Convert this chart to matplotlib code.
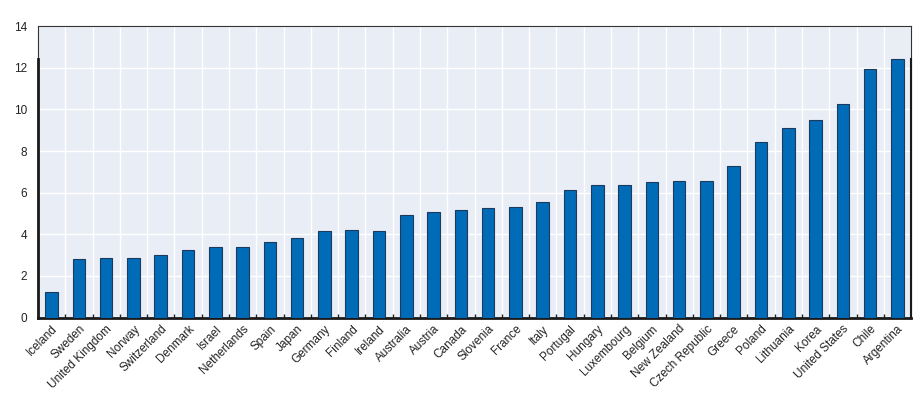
import matplotlib
matplotlib.use("Agg")
import matplotlib.pyplot as plt
import numpy as np

countries = ["Iceland", "Sweden", "United Kingdom", "Norway", "Switzerland", "Denmark",
             "Israel", "Netherlands", "Spain", "Japan", "Germany", "Finland", "Ireland",
             "Australia", "Austria", "Canada", "Slovenia", "France", "Italy", "Portugal",
             "Hungary", "Luxembourg", "Belgium", "New Zealand", "Czech Republic", "Greece",
             "Poland", "Lithuania", "Korea", "United States", "Chile", "Argentina"]
values = [1.22, 2.79, 2.85, 2.85, 2.98, 3.22, 3.38, 3.40, 3.62, 3.81, 4.17, 4.20, 4.18,
          4.92, 5.05, 5.16, 5.24, 5.29, 5.54, 6.14, 6.35, 6.36, 6.49, 6.55, 6.55, 7.28,
          8.45, 9.12, 9.47, 10.27, 11.94, 12.42]
yticks = [0, 2, 4, 6, 8, 10, 12, 14]

plt.rcParams['font.family'] = ['Liberation Sans Narrow', 'Liberation Sans', 'DejaVu Sans']

fig = plt.figure(figsize=(9.2, 4.05), dpi=100)
ax = fig.add_axes([0.0413, 0.216, 0.949, 0.7195])
ax.set_facecolor("#e9eef6")

x = np.arange(len(countries))
ax.bar(x, values, width=0.46, color="#006bb6", edgecolor="#1b3a5e", linewidth=0.8, zorder=3)

ax.set_xlim(-0.5, len(countries) - 0.5)
ax.set_ylim(yticks[0], yticks[-1])
ax.set_yticks(yticks)
ax.set_yticklabels([str(t) for t in yticks], fontsize=8.5, color="#222222")
ax.tick_params(axis='y', length=0, pad=8)

ax.set_xticks(x)
ax.set_xticklabels(countries, rotation=45, ha='right', va='top', rotation_mode='anchor',
                   fontsize=8.5, color="#222222")
ax.tick_params(axis='x', which='major', length=0, pad=4)
ax.set_xticks(x[:-1] + 0.5, minor=True)
ax.tick_params(axis='x', which='minor', direction='in', length=3, width=1, color="#222222")

ax.grid(True, axis='y', color='white', linewidth=1.0, zorder=1)
ax.grid(True, axis='x', which='minor', color='white', linewidth=1.0, zorder=1)
ax.set_axisbelow(True)

for s in ['top', 'right', 'left']:
    ax.spines[s].set_color("#333333")
    ax.spines[s].set_linewidth(0.8)
ax.spines['bottom'].set_color("#1a1a1a")
ax.spines['bottom'].set_linewidth(2.0)

# emphasised vertical axis lines up to the data maximum
ymax_frac = max(values) / yticks[-1]
ax.axvline(ax.get_xlim()[0], ymin=0, ymax=ymax_frac, color="#1a1a1a", linewidth=2.0, zorder=4, clip_on=False)
ax.axvline(ax.get_xlim()[1], ymin=0, ymax=ymax_frac, color="#1a1a1a", linewidth=1.5, zorder=4, clip_on=False)

fig.savefig("out.png", dpi=100)
